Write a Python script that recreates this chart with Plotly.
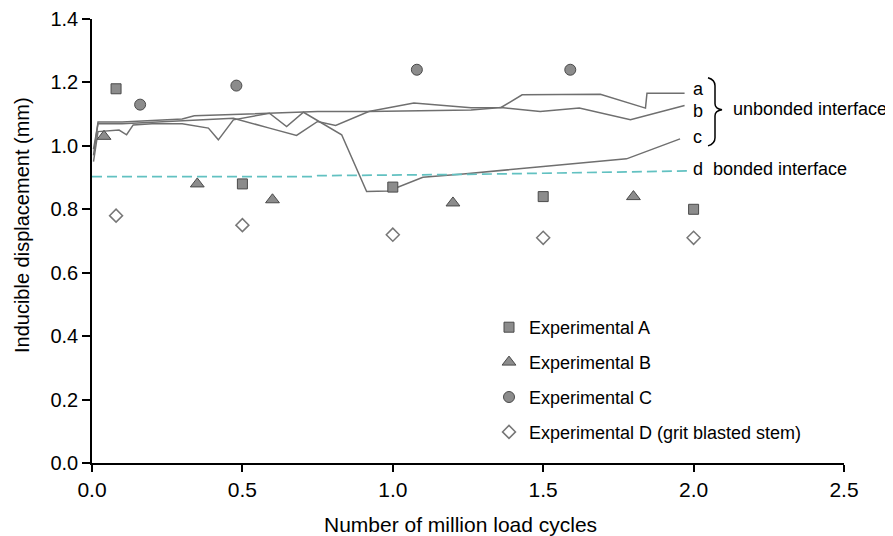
import plotly.graph_objects as go

# ---------------- data ----------------
a_x = [0.005, 0.02, 0.1, 0.2, 0.3, 0.34, 0.5, 0.6, 0.75, 0.92, 1.07, 1.26, 1.36, 1.43, 1.57, 1.69, 1.84, 1.845, 1.97]
a_y = [0.97, 1.075, 1.075, 1.08, 1.085, 1.095, 1.10, 1.105, 1.108, 1.108, 1.135, 1.12, 1.121, 1.161, 1.163, 1.163, 1.119, 1.166, 1.166]

b_x = [0.005, 0.02, 0.1, 0.2, 0.3, 0.38, 0.47, 0.59, 0.68, 0.75, 0.81, 0.92, 1.1, 1.26, 1.36, 1.49, 1.62, 1.79, 1.97]
b_y = [0.99, 1.07, 1.07, 1.075, 1.078, 1.082, 1.087, 1.056, 1.033, 1.077, 1.064, 1.108, 1.11, 1.113, 1.121, 1.108, 1.119, 1.082, 1.127]

c_x = [0.005, 0.02, 0.09, 0.115, 0.137, 0.2, 0.3, 0.387, 0.42, 0.448, 0.47, 0.59, 0.647, 0.703, 0.83, 0.913, 0.985, 1.1, 1.234, 1.5, 1.777, 1.955]
c_y = [0.95, 1.045, 1.05, 1.035, 1.066, 1.07, 1.07, 1.056, 1.019, 1.056, 1.082, 1.103, 1.061, 1.106, 1.035, 0.856, 0.858, 0.901, 0.911, 0.935, 0.959, 1.022]

d_x = [0.0, 0.73, 0.75, 1.25, 1.98]
d_y = [0.903, 0.903, 0.906, 0.91, 0.921]

expA_x = [0.08, 0.5, 1.0, 1.5, 2.0]
expA_y = [1.18, 0.88, 0.87, 0.84, 0.80]

expB_x = [0.04, 0.35, 0.6, 1.2, 1.8]
expB_y = [1.03, 0.88, 0.83, 0.82, 0.84]

expC_x = [0.16, 0.48, 1.08, 1.59]
expC_y = [1.13, 1.19, 1.24, 1.24]

expD_x = [0.08, 0.5, 1.0, 1.5, 2.0]
expD_y = [0.78, 0.75, 0.72, 0.71, 0.71]

x_ticks = [0.0, 0.5, 1.0, 1.5, 2.0, 2.5]
y_ticks = [0.0, 0.2, 0.4, 0.6, 0.8, 1.0, 1.2, 1.4]

# ---------------- figure ----------------
FONT = "Liberation Sans, Arial, Helvetica, sans-serif"
LINE_COL = "#6f6f6f"
MK_FILL = "#8c8c8c"
MK_EDGE = "#4a4a4a"

fig = go.Figure()

for xs, ys in [(a_x, a_y), (b_x, b_y), (c_x, c_y)]:
    fig.add_trace(go.Scatter(x=xs, y=ys, mode="lines", showlegend=False,
                             line=dict(color=LINE_COL, width=1.5), hoverinfo="skip"))

fig.add_trace(go.Scatter(x=d_x, y=d_y, mode="lines", showlegend=False,
                         line=dict(color="#62c1c1", width=1.7, dash="10px,5px"), hoverinfo="skip"))

fig.add_trace(go.Scatter(x=expA_x, y=expA_y, mode="markers", name="Experimental A", legendgroup="A",
                         marker=dict(symbol="square", size=10, color=MK_FILL, line=dict(color=MK_EDGE, width=1))))
fig.add_trace(go.Scatter(x=expB_x, y=expB_y, mode="markers", name="Experimental B", legendgroup="B",
                         marker=dict(symbol="triangle-up", size=12, color=MK_FILL, line=dict(color=MK_EDGE, width=1))))
fig.add_trace(go.Scatter(x=expC_x, y=expC_y, mode="markers", name="Experimental C", legendgroup="C",
                         marker=dict(symbol="circle", size=11, color=MK_FILL, line=dict(color=MK_EDGE, width=1))))
fig.add_trace(go.Scatter(x=expD_x, y=expD_y, mode="markers", name="Experimental D (grit blasted stem)", legendgroup="D",
                         marker=dict(symbol="diamond", size=10, color="white", line=dict(color="#777777", width=1.5))))

# curve labels
lab_font = dict(family=FONT, size=18, color="black")
for txt, yv in [("a", 1.178), ("b", 1.111), ("c", 1.029), ("d", 0.926)]:
    fig.add_annotation(x=1.995, y=yv, text=txt, showarrow=False, xanchor="left", yanchor="middle",
                       font=lab_font, borderpad=0)
fig.add_annotation(x=2.128, y=1.116, text="unbonded interface", showarrow=False, xanchor="left",
                   yanchor="middle", font=dict(family=FONT, size=18, color="black"), borderpad=0)
fig.add_annotation(x=2.06, y=0.926, text="bonded interface", showarrow=False, xanchor="left",
                   yanchor="middle", font=dict(family=FONT, size=18, color="black"), borderpad=0)

# brace (pixel positions relative to the plot area -> data coords)
def px2x(p):
    return (p - 92) / 300.8

def py2y(p):
    return (463 - p) / 317.0

pts = [(708, 78), (715, 80), (715, 86), (715, 104), (722, 110), (715, 116), (715, 138), (715, 144), (708, 146)]
P = [(px2x(x), py2y(y)) for x, y in pts]
path = (f"M {P[0][0]},{P[0][1]} Q {P[1][0]},{P[1][1]} {P[2][0]},{P[2][1]} "
        f"L {P[3][0]},{P[3][1]} Q {P[3][0]},{py2y(109)} {P[4][0]},{P[4][1]} "
        f"Q {P[5][0]},{py2y(111)} {P[5][0]},{P[5][1]} "
        f"L {P[6][0]},{P[6][1]} Q {P[7][0]},{P[7][1]} {P[8][0]},{P[8][1]}")
fig.add_shape(type="path", path=path, xref="x", yref="y", line=dict(color="black", width=1.5))

# axis titles as annotations
fig.add_annotation(xref="paper", yref="paper", x=(22 - 92) / 752, y=(463 - 225) / 444,
                   text="Inducible displacement (mm)", textangle=-90, showarrow=False,
                   xanchor="center", yanchor="middle", font=dict(family=FONT, size=20, color="black"))
fig.add_annotation(xref="paper", yref="paper", x=(460 - 92) / 752, y=(463 - 524) / 444,
                   text="Number of million load cycles", showarrow=False,
                   xanchor="center", yanchor="middle", font=dict(family=FONT, size=21, color="black"))

# page body has an 8px margin: figure is 8px smaller and margins shifted by 8px
fig.update_layout(
    width=885, height=528,
    margin=dict(l=84, r=49, t=11, b=73),
    paper_bgcolor="white", plot_bgcolor="white",
    font=dict(family=FONT, size=20, color="black"),
    legend=dict(x=(489 - 92) / 752, y=(463 - 309) / 444, xanchor="left", yanchor="top",
                font=dict(family=FONT, size=18, color="black"), tracegroupgap=8.5,
                bgcolor="rgba(0,0,0,0)", itemsizing="trace"),
    xaxis=dict(range=[0, 2.5], tickvals=x_ticks, ticktext=[f"{v:.1f}" for v in x_ticks],
               showgrid=False, zeroline=False, showline=True, linecolor="black", linewidth=1.5,
               ticks="outside", ticklen=7, tickwidth=1.5, tickcolor="black", automargin=False,
               tickfont=dict(family=FONT, size=21, color="black")),
    yaxis=dict(range=[0, 1.4], tickvals=y_ticks, ticktext=[f"{v:.1f}" for v in y_ticks],
               showgrid=False, zeroline=False, showline=True, linecolor="black", linewidth=1.5,
               ticks="outside", ticklen=8, tickwidth=1.5, tickcolor="black", automargin=False,
               tickfont=dict(family=FONT, size=20, color="black")),
)

fig.write_html("out.html")
